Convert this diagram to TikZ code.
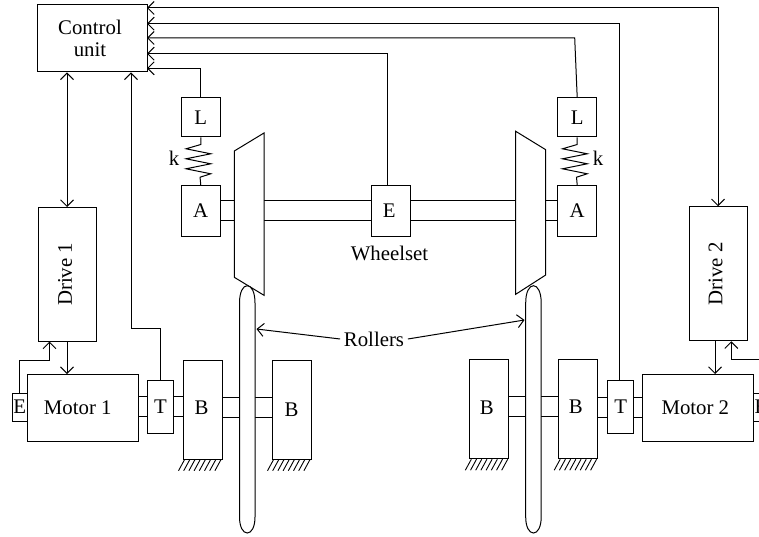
\documentclass[tikz,border=0pt]{standalone}
\usepackage{fontspec}
\setmainfont{Liberation Serif}
\usetikzlibrary{arrows.meta, calc}

\begin{document}
\begin{tikzpicture}[
    x=1pt, y=-1pt, line width=1pt, >={Straight Barb[length=6.5pt,width=13pt]},
    font=\fontsize{20.8}{22.5}\selectfont,
    box/.style={draw, fill=white, inner sep=0pt},
    wheel/.style={draw, fill=white, line join=miter},
    hatch/.style={line width=0.9pt}
]
    \useasboundingbox (0,0) rectangle (759,537);

    \node[box, align=center, minimum width=110, minimum height=67] (ctrl) at (92,38.5) {Control\hspace*{4pt}\\unit\hspace*{4pt}};
    \node[box, minimum width=58, minimum height=133.5] (drive1) at (67,274.25) {\rotatebox{90}{Drive 1}\hspace*{4pt}};
    \node[box, minimum width=58, minimum height=134] (drive2) at (718,273.75) {\rotatebox{90}{Drive 2}\hspace*{5pt}};
    \node[box, minimum width=110.5, minimum height=66.5] (motor1) at (82.75,407.75) {Motor 1\hspace*{10pt}};
    \node[box, minimum width=111, minimum height=66.5] (motor2) at (697.8,407.75) {Motor 2\hspace*{5pt}};
    \node[box, minimum width=15.5, minimum height=28] (e1) at (19.75,407) {E};
    \node[box, minimum width=15.5, minimum height=28] (e2) at (761,407) {E};
    \node[box, minimum width=26, minimum height=53.5] (t1) at (160.5,406.75) {T};
    \node[box, minimum width=26, minimum height=53.5] (t2) at (620.7,406.75) {T};
    \node[box, minimum width=39, minimum height=99] (b1) at (202.5,409.75) {\raisebox{4pt}{B}\hspace*{2pt}};
    \node[box, minimum width=39, minimum height=99] (b2) at (291.5,409.75) {B};
    \node[box, minimum width=39, minimum height=99] (b3) at (489.3,409.25) {\raisebox{4pt}{B}\hspace*{5pt}};
    \node[box, minimum width=39, minimum height=99] (b4) at (578.2,409.25) {\raisebox{6pt}{B}\hspace*{5pt}};
    \node[box, minimum width=39.5, minimum height=39] (l1) at (200.75,117.5) {L};
    \node[box, minimum width=39.5, minimum height=39] (l2) at (577.2,117.5) {L};
    \node[box, minimum width=39.5, minimum height=50.5] (a1) at (200.75,210.75) {A};
    \node[box, minimum width=39.5, minimum height=50.5] (a2) at (577.2,210.75) {A};
    \node[box, minimum width=39, minimum height=50.5] (e3) at (391.2,210.75) {\raisebox{1pt}{E}\hspace*{4pt}};
    \node (k1) at (174,158) {k};
    \node (k2) at (598,158) {k};
    \node (wheelset) at (389.5,253) {Wheelset};
    \node (rollers) at (374,339) {Rollers};

    \coordinate (c1) at (147,8);
    \coordinate (c2) at (147,23.7);
    \coordinate (c3) at (147,38);
    \coordinate (c4) at (147,53.7);
    \coordinate (c5) at (147,68.3);
    \coordinate (r1) at (256.5,329);
    \coordinate (r2) at (524.5,320);

    \foreach \y in {200.3,220.3}
        \draw (a1.east |- 0,\y) -- (e3.west |- 0,\y) (e3.east |- 0,\y) -- (a2.west |- 0,\y);
    \foreach \y in {396,416.7}
        \draw (motor1.east |- 0,\y) -- (t1.west |- 0,\y) (t1.east |- 0,\y) -- (b1.west |- 0,\y)
              (b3.east |- 0,\y) -- (b4.west |- 0,\y);
    \foreach \y in {397,417.7}
        \draw (b1.east |- 0,\y) -- (b2.west |- 0,\y)
              (b4.east |- 0,\y) -- (t2.west |- 0,\y) (t2.east |- 0,\y) -- (motor2.west |- 0,\y);

    \draw[wheel] (234.3,151) -- (264,133) -- (264,295.3) -- (234.3,277.3) -- cycle;
    \draw[wheel] (515.7,131.3) -- (545.7,149.7) -- (545.7,275) -- (515.7,294.3) -- cycle;

    \foreach \x in {239.5,525.7} {
        \draw[wheel] (\x,303) .. controls (\x,292) and (\x+3.5,285.7) .. (\x+7.75,285.7)
            .. controls (\x+12,285.7) and (\x+15.5,292) .. (\x+15.5,303)
            -- (\x+15.5,517) .. controls (\x+15.5,527) and (\x+12,533) .. (\x+7.75,533)
            .. controls (\x+3.5,533) and (\x,527) .. (\x,517) -- cycle;
    }

    \foreach \b in {b1,b2,b3,b4}
        \foreach \o in {2,7.2,...,39}
            \draw[hatch] ($(\b.south west)+(\o,0)$) -- ++(-6,11);

    \foreach \l/\a in {l1/a1,l2/a2}
        \draw (\l.south) -- ++(0,7) -- ++(-14.7,4.3) -- ++(24.7,5) -- ++(-24.7,5) -- ++(24.7,5)
            -- ++(-24.7,5) -- ++(24.7,5) -- ++(-10.7,3.4) -- (\a.north);

    \draw[<->] (ctrl.south -| drive1.north) -- (drive1.north);
    \draw[->] (drive1.south) -- (drive1.south |- motor1.north);
    \draw[->] (e1.north) -- ++(0,-32.3) -| ([xshift=-17.5pt]drive1.south);
    \draw[->] (t1.north) -- ++(0,-50.7) -| ([xshift=39pt]ctrl.south);
    \draw[->] (l1.north) |- (c5);
    \draw[->] ([xshift=-4.2pt]e3.north) |- (c4);
    \draw[->] (l2.north) -- (574.7,38) -- (c3);
    \draw[->] ([xshift=-1.4pt]t2.north) |- (c2);
    \draw[<->] (c1) -| (drive2.north);
    \draw[->] (drive2.south -| 715,0) -- (motor2.north -| 715,0);
    \draw[->] (e2.north) -- ++(0,-33.3) -| ([xshift=13.3pt]drive2.south);
    \draw[->] (rollers.west) -- (r1);
    \draw[->] (rollers.east) -- (r2);
\end{tikzpicture}
\end{document}
